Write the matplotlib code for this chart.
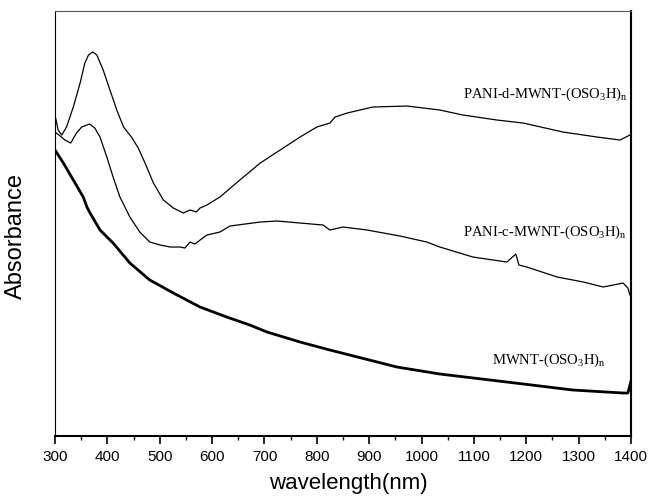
import matplotlib
matplotlib.use("Agg")
import matplotlib.pyplot as plt
from matplotlib.ticker import MultipleLocator

# UV-vis-NIR spectra, absorbance in arbitrary units
wl_d = [300, 306, 313, 322, 335, 348, 357, 364, 372, 380, 392, 405, 418, 431, 446, 459, 472,
        488, 507, 526, 545, 558, 570, 577, 590, 615, 653, 692, 730, 768, 800, 825, 835, 858,
        907, 972, 1035, 1079, 1144, 1194, 1270, 1335, 1379, 1398]
abs_d = [321, 306, 301, 309, 329, 353, 373, 381, 384, 381, 366, 346, 326, 309, 299, 288, 273,
         253, 236, 228, 223, 226, 224, 228, 231, 239, 256, 273, 286, 299, 309, 313, 319, 323,
         329, 330, 326, 321, 316, 313, 304, 299, 296, 301]

wl_c = [300, 310, 319, 330, 341, 351, 366, 376, 386, 399, 411, 424, 443, 462, 481, 501, 520,
        539, 548, 558, 567, 590, 615, 634, 692, 724, 768, 812, 825, 850, 896, 959, 1010, 1035,
        1098, 1163, 1180, 1186, 1201, 1259, 1309, 1347, 1385, 1394, 1398]
abs_c = [304, 300, 296, 293, 303, 309, 312, 308, 299, 279, 259, 239, 219, 204, 194, 191, 189,
         189, 188, 194, 192, 201, 204, 210, 214, 215, 213, 211, 206, 209, 206, 200, 194, 189,
         179, 174, 182, 171, 169, 159, 154, 149, 153, 148, 141]

wl_m = [300, 316, 335, 354, 361, 367, 386, 411, 443, 481, 526, 577, 628, 672, 705, 768, 825,
        953, 1035, 1163, 1289, 1385, 1394, 1400]
abs_m = [286, 273, 256, 239, 229, 223, 206, 193, 173, 156, 143, 129, 119, 111, 104, 94, 86,
         69, 62, 54, 46, 43, 43, 55]

labels = [r"PANI-d-MWNT-(OSO$_3$H)$_\mathrm{n}$", r"PANI-c-MWNT-(OSO$_3$H)$_\mathrm{n}$",
          r"MWNT-(OSO$_3$H)$_\mathrm{n}$"]
label_pos = [(1079, 342), (1079, 204), (1135, 76)]

plt.rcParams["mathtext.fontset"] = "custom"
plt.rcParams["mathtext.rm"] = "Liberation Serif"

fig = plt.figure(figsize=(6.53, 5.01), dpi=100)
ax = fig.add_axes([0.0842, 0.1297, 0.8821, 0.8483])

ax.plot(wl_d, abs_d, color="black", lw=0.9)
ax.plot(wl_c, abs_c, color="black", lw=0.9)
ax.plot(wl_m, abs_m, color="black", lw=2.0)

for txt, (x, y) in zip(labels, label_pos):
    ax.text(x, y, txt, family="Liberation Serif", fontsize=10.5, ha="left", va="center")

ax.set_xlim(300, 1400)
ax.set_ylim(0, 425)
ax.xaxis.set_major_locator(MultipleLocator(100))
ax.xaxis.set_minor_locator(MultipleLocator(50))
ax.set_yticks([])
ax.tick_params(axis="x", which="major", direction="out", length=6, width=1.2,
               labelsize=11, pad=4)
ax.tick_params(axis="x", which="minor", direction="out", length=3, width=1.0)
for lab in ax.get_xticklabels():
    lab.set_family("Liberation Sans")

ax.spines["bottom"].set_linewidth(1.5)
ax.spines["right"].set_linewidth(1.5)
ax.spines["left"].set_linewidth(0.8)
ax.spines["top"].set_linewidth(0.8)
ax.spines["top"].set_color("#555555")

ax.set_xlabel("wavelength(nm)", family="Liberation Sans", fontsize=16)
ax.set_ylabel("Absorbance", family="Liberation Sans", fontsize=17)
ax.xaxis.set_label_coords(0.51, -0.088)
ax.yaxis.set_label_coords(-0.048, 0.47)

fig.savefig("out.png", dpi=100)
